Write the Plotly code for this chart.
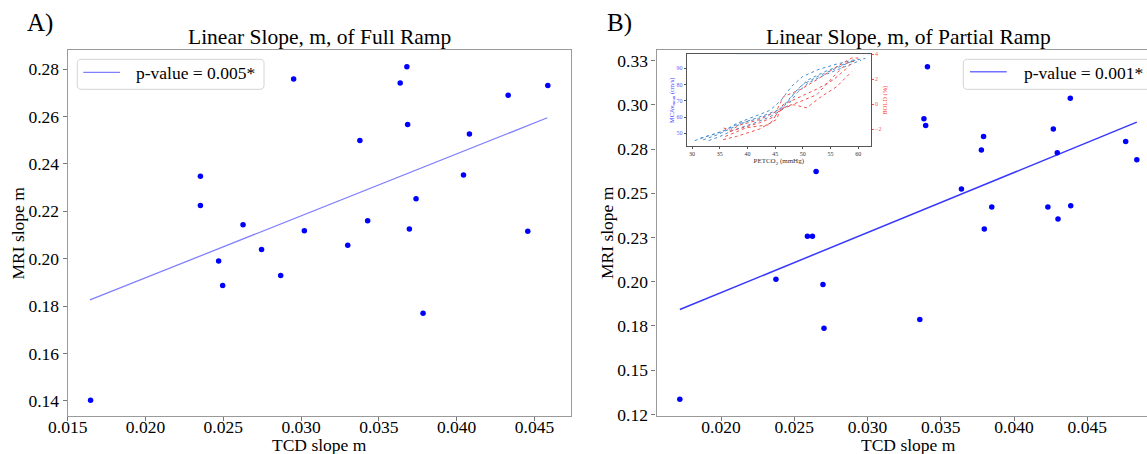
import plotly.graph_objects as go

# ---------------- data ----------------
# Panel A: full ramp
tcd_full = [0.01647, 0.02353, 0.02353, 0.0247, 0.02496, 0.02627, 0.02746, 0.02869,
            0.02952, 0.03021, 0.03300, 0.03378, 0.03428, 0.03637, 0.03680, 0.03685,
            0.03696, 0.03739, 0.03784, 0.04044, 0.04082, 0.04331, 0.04457, 0.04586]
mri_full = [0.1403, 0.2348, 0.2225, 0.1990, 0.1887, 0.2143, 0.2039, 0.1929,
            0.2759, 0.2118, 0.2057, 0.2499, 0.2160, 0.2742, 0.2810, 0.2566,
            0.2125, 0.2253, 0.1770, 0.2353, 0.2526, 0.2690, 0.2116, 0.2731]
fit_full_x = [0.01643, 0.04583]
fit_full_y = [0.1826, 0.2595]

# Panel B: partial ramp
tcd_part = [0.01719, 0.02375, 0.02590, 0.02624, 0.02649, 0.02696, 0.02703, 0.03357,
            0.03385, 0.03397, 0.03409, 0.03641, 0.03777, 0.03792, 0.03797, 0.03848,
            0.04231, 0.04268, 0.04295, 0.04300, 0.04384, 0.04387, 0.04762, 0.04838]
mri_part = [0.1335, 0.2014, 0.2257, 0.2257, 0.2623, 0.1984, 0.1737, 0.1786,
            0.2921, 0.2883, 0.3216, 0.2524, 0.2744, 0.2821, 0.2298, 0.2422,
            0.2422, 0.2864, 0.2729, 0.2354, 0.3037, 0.2430, 0.2793, 0.2689]
fit_part_x = [0.01719, 0.04838]
fit_part_y = [0.1843, 0.2902]

# tick labels
yticks_A = [0.14, 0.16, 0.18, 0.20, 0.22, 0.24, 0.26, 0.28]
xticks_A = [0.015, 0.020, 0.025, 0.030, 0.035, 0.040, 0.045]
xticks_B = [0.020, 0.025, 0.030, 0.035, 0.040, 0.045]
yticks_B = [0.125, 0.150, 0.175, 0.200, 0.225, 0.250, 0.275, 0.300, 0.325]
yticktext_B = ["0.12", "0.15", "0.18", "0.20", "0.23", "0.25", "0.28", "0.30", "0.33"]

# Inset: MCAv (blue, left axis) and BOLD (red, right axis) vs PETCO2
mca_curves = [
    ([30.5, 33.0, 35.5, 38.0, 41.0, 44.0, 46.0, 48.0, 50.0, 53.0, 56.0, 59.0, 61.3],
     [45.5, 48.5, 51.0, 56.0, 60.0, 64.0, 70.0, 79.0, 85.0, 89.5, 92.5, 95.0, 96.0]),
    ([31.5, 34.0, 36.0, 38.5, 42.0, 45.0, 47.0, 49.0, 51.0, 54.0, 57.0, 60.0],
     [47.0, 49.5, 52.0, 56.0, 59.0, 63.0, 68.0, 77.0, 83.0, 88.0, 92.0, 95.5]),
    ([32.0, 34.5, 37.0, 40.0, 43.0, 46.0, 48.0, 50.0, 53.0, 56.0, 59.0],
     [46.0, 49.0, 53.0, 57.5, 61.0, 65.0, 73.0, 80.0, 85.5, 90.0, 94.5]),
    ([33.0, 35.0, 37.5, 41.0, 44.0, 47.0, 49.0, 51.0, 54.0, 58.0, 60.5],
     [45.5, 48.0, 52.0, 56.0, 60.0, 66.0, 75.0, 81.0, 86.0, 91.5, 95.0]),
]
bold_curves = [
    ([35.7, 37.0, 38.5, 42.2, 45.2, 46.5, 49.5, 52.5, 56.1, 58.8, 60.0],
     [-1.92, -2.1, -1.7, -1.25, -0.59, 0.6, 1.15, 1.95, 3.0, 3.7, 3.7]),
    ([35.6, 38.0, 42.2, 45.2, 46.4, 49.5, 52.5, 55.5, 57.6, 58.8],
     [-2.85, -2.6, -2.0, -1.25, -0.05, 0.6, 1.2, 1.95, 2.75, 3.3]),
    ([36.0, 39.8, 44.0, 45.8, 48.3, 50.7, 53.0, 56.1, 58.8],
     [-2.6, -1.9, -1.65, -0.45, -0.05, -0.3, 0.5, 1.4, 2.6]),
    ([36.8, 42.2, 44.9, 46.4, 49.5, 52.5, 55.5, 57.9, 59.7],
     [-2.2, -1.5, -1.0, -0.3, 0.2, 0.75, 2.2, 3.3, 3.5]),
]
shade_band = [38.0, 50.8]
inset_xticks = [30, 35, 40, 45, 50, 55, 60]
inset_yticks = [50, 60, 70, 80, 90]
inset_y2ticks = [-2, 0, 2, 4]

# ---------------- layout helpers ----------------
W, H = 1147, 454
FONT = "Liberation Serif"


def fx(p):
    return p / W


def fy(p):
    return 1 - p / H


fig = go.Figure()

# Panel A
fig.add_trace(go.Scatter(x=fit_full_x, y=fit_full_y, mode="lines",
                         line=dict(color="rgba(0,0,255,0.5)", width=1.3),
                         xaxis="x", yaxis="y", showlegend=False, name="p-value = 0.005*"))
fig.add_trace(go.Scatter(x=tcd_full, y=mri_full, mode="markers",
                         marker=dict(color="#0000ff", size=5.5),
                         xaxis="x", yaxis="y", showlegend=False))
# Panel B
fig.add_trace(go.Scatter(x=fit_part_x, y=fit_part_y, mode="lines",
                         line=dict(color="rgba(20,20,255,0.85)", width=1.5),
                         xaxis="x2", yaxis="y2", showlegend=False, name="p-value = 0.001*"))
fig.add_trace(go.Scatter(x=tcd_part, y=mri_part, mode="markers",
                         marker=dict(color="#0000ff", size=5.5),
                         xaxis="x2", yaxis="y2", showlegend=False))
# Inset
for cx, cy in mca_curves:
    fig.add_trace(go.Scatter(x=cx, y=cy, mode="lines", line=dict(color="#4a8fcc", width=1.0, dash="dot"),
                             xaxis="x3", yaxis="y3", showlegend=False))
for cx, cy in bold_curves:
    fig.add_trace(go.Scatter(x=cx, y=cy, mode="lines", line=dict(color="#f05050", width=1.0, dash="dot"),
                             xaxis="x3", yaxis="y4", showlegend=False))

axis_common = dict(showgrid=False, zeroline=False, showline=True, linecolor="#9a9a9a", linewidth=1.2,
                   ticks="outside", ticklen=4, tickwidth=1, tickcolor="#777",
                   tickfont=dict(family=FONT, size=17.5, color="black"), automargin=False)
top, bot = 50, 416
fig.update_layout(
    width=W, height=H, margin=dict(l=0, r=0, t=0, b=0, autoexpand=False),
    paper_bgcolor="white", plot_bgcolor="white", showlegend=False,
    xaxis=dict(domain=[fx(67.7), fx(570.7)], range=[0.0150, 0.04733], anchor="y",
               tickvals=xticks_A, tickformat=".3f", mirror=True, ticklabelstandoff=-9, **axis_common),
    yaxis=dict(domain=[fy(bot), fy(top)], range=[0.1336, 0.2881], anchor="x",
               tickvals=yticks_A, tickformat=".2f", mirror=True, **axis_common),
    xaxis2=dict(domain=[fx(656.5), 1.0], range=[0.015598, 0.049075], anchor="y2",
                tickvals=xticks_B, tickformat=".3f", mirror=True, ticklabelstandoff=-9, **axis_common),
    yaxis2=dict(domain=[fy(bot), fy(top)], range=[0.1241, 0.3310], anchor="x2",
                tickvals=yticks_B, ticktext=yticktext_B, mirror=False, **axis_common),
    xaxis3=dict(domain=[fx(686.5), fx(871)], range=[29.0, 62.3], anchor="y3",
                tickvals=inset_xticks, showgrid=False, zeroline=False, showline=True,
                linecolor="#555", linewidth=0.8, mirror=True, ticks="outside", ticklen=2,
                tickwidth=0.6, tickcolor="#555", automargin=False,
                tickfont=dict(family=FONT, size=6, color="#333"),
                title=dict(text="PETCO<sub>2</sub> (mmHg)", font=dict(family=FONT, size=7, color="#333"),
                           standoff=1)),
    yaxis3=dict(domain=[fy(146.3), fy(54.3)], range=[42.0, 98.6], anchor="x3",
                tickvals=inset_yticks, showgrid=False, zeroline=False, showline=True,
                linecolor="#555", linewidth=0.8, ticks="outside", ticklen=2,
                tickwidth=0.6, tickcolor="#555", automargin=False,
                tickfont=dict(family=FONT, size=6, color="#6060ff"),
                title=dict(text="MCAv<sub>mean</sub> (cm/s)", font=dict(family=FONT, size=6.5, color="#4040ff"),
                           standoff=1)),
    yaxis4=dict(overlaying="y3", side="right", range=[-3.39, 4.0], anchor="x3",
                tickvals=inset_y2ticks, showgrid=False, zeroline=False, showline=True,
                linecolor="#555", linewidth=0.8, ticks="outside", ticklen=2,
                tickwidth=0.6, tickcolor="#ff5050", automargin=False,
                tickfont=dict(family=FONT, size=6, color="#ff5050"),
                title=dict(text="BOLD (%)", font=dict(family=FONT, size=6.5, color="#ff4040"),
                           standoff=1)),
)

# shaded CO2 band in the inset
fig.add_shape(type="rect", xref="x3", yref="y3 domain", x0=shade_band[0], x1=shade_band[1],
              y0=0, y1=1, fillcolor="#b3dde5", line=dict(width=0), layer="below")


# legends (drawn manually to match the boxed matplotlib legends)
def rr_path(x0, y0, x1, y1, r):
    def P(x, y):
        return f"{fx(x):.5f},{fy(y):.5f}"
    return (f"M {P(x0 + r, y0)} L {P(x1 - r, y0)} Q {P(x1, y0)} {P(x1, y0 + r)} "
            f"L {P(x1, y1 - r)} Q {P(x1, y1)} {P(x1 - r, y1)} L {P(x0 + r, y1)} "
            f"Q {P(x0, y1)} {P(x0, y1 - r)} L {P(x0, y0 + r)} Q {P(x0, y0)} {P(x0 + r, y0)} Z")


fig.add_shape(type="path", xref="paper", yref="paper", path=rr_path(77.3, 59.3, 264, 89.3, 4),
              line=dict(color="#d4d4d4", width=1), fillcolor="rgba(255,255,255,0.8)")
fig.add_shape(type="line", xref="paper", yref="paper", x0=fx(83.3), x1=fx(120), y0=fy(72.3), y1=fy(72.3),
              line=dict(color="rgba(0,0,255,0.5)", width=1.3))
fig.add_shape(type="path", xref="paper", yref="paper", path=rr_path(963.3, 59.3, 1152, 89.3, 4),
              line=dict(color="#d4d4d4", width=1), fillcolor="rgba(255,255,255,0.8)")
fig.add_shape(type="line", xref="paper", yref="paper", x0=fx(970), x1=fx(1006.7), y0=fy(71.7), y1=fy(71.7),
              line=dict(color="rgba(20,20,255,0.6)", width=1.5))

ann = []


def A(text, x, y, size, xanchor="center", yanchor="middle", angle=0, color="black"):
    ann.append(dict(text=text, x=fx(x), y=fy(y), xref="paper", yref="paper", showarrow=False,
                    xanchor=xanchor, yanchor=yanchor, textangle=angle,
                    font=dict(family=FONT, size=size, color=color)))


A("p-value = 0.005*", 134, 73, 17.5, xanchor="left")
A("p-value = 0.001*", 1021.7, 73, 17.5, xanchor="left")
A("A)", 39.5, 23, 25)
A("B)", 619, 23, 25)
A("Linear Slope, m, of Full Ramp", 319, 37, 21.5)
A("Linear Slope, m, of Partial Ramp", 908.5, 37, 21.5)
A("TCD slope m", 319, 445, 17.5)
A("TCD slope m", 908.5, 445, 17.5)
A("MRI slope m", 17.5, 233, 17.5, angle=-90)
A("MRI slope m", 607, 233, 17.5, angle=-90)
fig.update_layout(annotations=ann)

fig.write_html("out.html")
